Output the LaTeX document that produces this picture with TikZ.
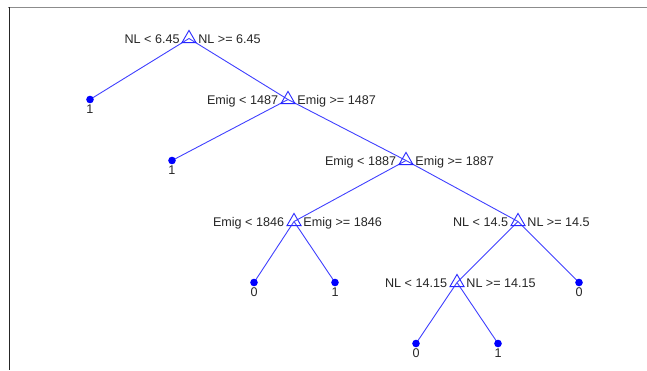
\documentclass[tikz,border=0pt]{standalone}
\usepackage{fontspec}
\setmainfont{Liberation Sans}
\usetikzlibrary{shapes.geometric}
\usetikzlibrary{positioning}
\usetikzlibrary{backgrounds}
\tikzstyle{branch}=[draw=blue!75, line width=0.9pt]
\tikzstyle{split}=[regular polygon, regular polygon sides=3, draw=blue!85, line width=0.9pt, minimum size=16.2pt, inner sep=0pt]
\tikzstyle{leaf}=[circle, fill=blue, minimum size=7.6pt, inner sep=0pt]
\tikzstyle{cond}=[inner sep=0pt, text height=9.2pt, text depth=0pt, font=\fontsize{12.6}{15}\selectfont, text=black!85]
\tikzstyle{frame}=[line width=0.8pt]

\begin{document}
\begin{tikzpicture}[x=1pt, y=-1pt]
          \useasboundingbox (0, 0) rectangle (647, 370);
          \draw[frame, black!45, line width=1.6pt] (8, 7.5) -- (647, 7.5);
          \draw[frame, black!85] (9, 7) -- (9, 370);

          % splits
          \node[split] (nl645) at (189, 38.5) {};
          \node[split] (em1487) at (288, 99.5) {};
          \node[split] (em1887) at (406, 160.5) {};
          \node[split] (em1846) at (294, 221.5) {};
          \node[split] (nl145) at (518, 221.5) {};
          \node[split] (nl1415) at (457, 282.5) {};

          % leaves
          \node[leaf] (a) at (90, 99.5) {};
          \node[leaf] (b) at (172, 160.5) {};
          \node[leaf] (c) at (254, 282.5) {};
          \node[leaf] (d) at (335, 282.5) {};
          \node[leaf] (e) at (579, 282.5) {};
          \node[leaf] (f) at (416, 343.5) {};
          \node[leaf] (g) at (498, 343.5) {};

          \begin{scope}[on background layer]
            \draw[branch] (nl645.center) -- (a.center);
            \draw[branch] (nl645.center) -- (em1487.center);
            \draw[branch] (em1487.center) -- (b.center);
            \draw[branch] (em1487.center) -- (em1887.center);
            \draw[branch] (em1887.center) -- (em1846.center);
            \draw[branch] (em1887.center) -- (nl145.center);
            \draw[branch] (em1846.center) -- (c.center);
            \draw[branch] (em1846.center) -- (d.center);
            \draw[branch] (nl145.center) -- (nl1415.center);
            \draw[branch] (nl145.center) -- (e.center);
            \draw[branch] (nl1415.center) -- (f.center);
            \draw[branch] (nl1415.center) -- (g.center);
          \end{scope}

          % conditions either side of each split
          \node[cond, left=4pt of nl645] (nl645l) {NL < 6.45};
          \node[cond, right=4pt of nl645] (nl645r) {NL >= 6.45};
          \node[cond, left=4.5pt of em1487] (em1487l) {Emig < 1487};
          \node[cond, right=4pt of em1487] (em1487r) {Emig >= 1487};
          \node[cond, left=4.5pt of em1887] (em1887l) {Emig < 1887};
          \node[cond, right=4pt of em1887] (em1887r) {Emig >= 1887};
          \node[cond, left=4.5pt of em1846] (em1846l) {Emig < 1846};
          \node[cond, right=4pt of em1846] (em1846r) {Emig >= 1846};
          \node[cond, left=4.5pt of nl145] (nl145l) {NL < 14.5};
          \node[cond, right=4pt of nl145] (nl145r) {NL >= 14.5};
          \node[cond, left=4.5pt of nl1415] (nl1415l) {NL < 14.15};
          \node[cond, right=4pt of nl1415] (nl1415r) {NL >= 14.15};

          % class under each leaf
          \node[cond, below=1pt of a] (al) {1};
          \node[cond, below=1pt of b] (bl) {1};
          \node[cond, below=1pt of c] (cl) {0};
          \node[cond, below=1pt of d] (dl) {1};
          \node[cond, below=1pt of e] (el) {0};
          \node[cond, below=1pt of f] (fl) {0};
          \node[cond, below=1pt of g] (gl) {1};

          % \draw[frame] (0, 0) rectangle (647, 370);
        \end{tikzpicture}
\end{document}
